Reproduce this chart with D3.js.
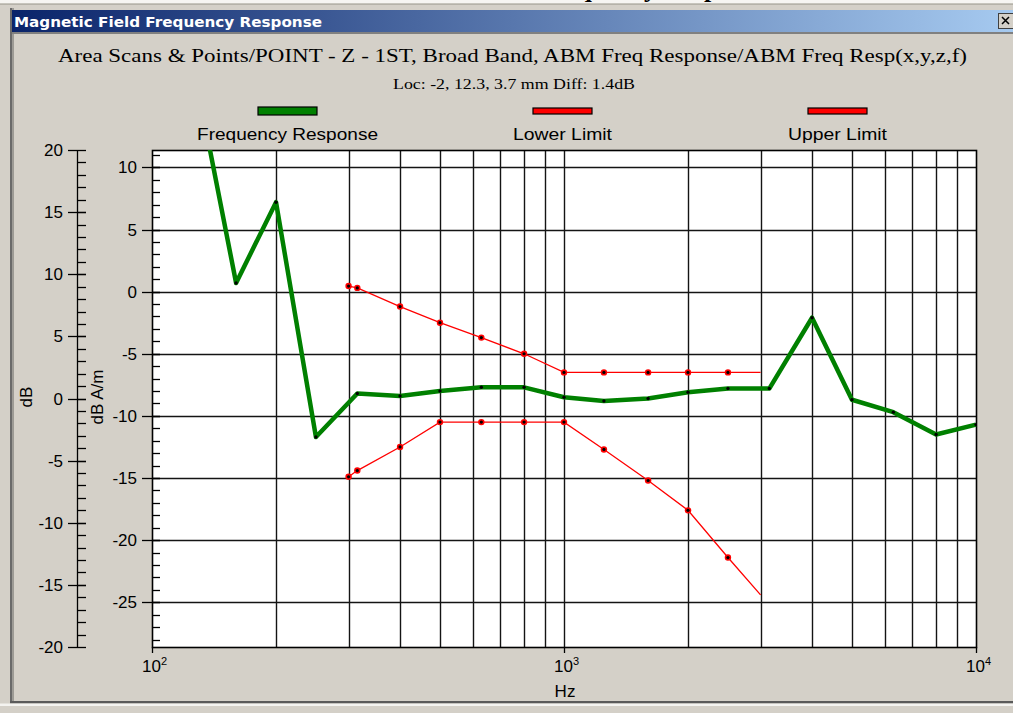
<!DOCTYPE html>
<html><head><meta charset="utf-8">
<script src="https://cdn.jsdelivr.net/npm/d3@7"></script>
<style>html,body{margin:0;padding:0;background:#d4d0c8;overflow:hidden}</style>
</head><body>
<svg id="c" width="1013" height="713"></svg>
<script>
// ---------------- data ----------------
const windowTitle = "Magnetic Field Frequency Response";
const subtitle1 = "Area Scans & Points/POINT - Z - 1ST, Broad Band, ABM Freq Response/ABM Freq Resp(x,y,z,f)";
const subtitle2 = "Loc: -2, 12.3, 3.7 mm Diff: 1.4dB";
const seriesNames = ["Frequency Response", "Lower Limit", "Upper Limit"];
const seriesColors = ["#008000", "#ff0000", "#ff0000"];

const responseHz = [125, 160, 200, 250, 315, 400, 500, 630, 800, 1000, 1250, 1600, 2000, 2500, 3150, 4000, 5000, 6300, 8000, 10000];
const responseDb = [18.8, 0.7, 7.2, -11.7, -8.2, -8.4, -8.0, -7.7, -7.7, -8.5, -8.8, -8.6, -8.1, -7.8, -7.8, -2.1, -8.7, -9.7, -11.5, -10.7];

const limitHz = [300, 315, 400, 500, 630, 800, 1000, 1250, 1600, 2000, 2500, 3000];
const lowerLimitDb = [-14.9, -14.4, -12.5, -10.5, -10.5, -10.5, -10.5, -12.7, -15.2, -17.6, -21.4, -24.4];
const upperLimitDb = [0.45, 0.3, -1.2, -2.5, -3.7, -5.0, -6.5, -6.5, -6.5, -6.5, -6.5, -6.5];

const xDomain = [100, 10000];
const xTickValues = [100, 1000, 10000];
const xTickExponents = ["2", "3", "4"];
const yInnerDomain = [-28.6, 11.4];
const yInnerTicks = [10, 5, 0, -5, -10, -15, -20, -25];
const yOuterDomain = [-20, 20];
const yOuterTicks = [20, 15, 10, 5, 0, -5, -10, -15, -20];
const yLabelOuter = "dB";
const yLabelInner = "dB A/m";
const xLabel = "Hz";

// ---------------- layout ----------------
const W = 1013, H = 713;
const P = {l: 152, r: 976, t: 150, b: 647};
const BG = "#d4d0c8";
const sans = "'Liberation Sans', Arial, sans-serif";
const serif = "'Liberation Serif', 'Times New Roman', serif";

const x = d3.scaleLog().domain(xDomain).range([P.l, P.r]);
const y = d3.scaleLinear().domain(yInnerDomain).range([P.b, P.t]);
const yO = d3.scaleLinear().domain(yOuterDomain).range([P.b, P.t]);

const svg = d3.select("#c");
const defs = svg.append("defs");

svg.append("rect").attr("width", W).attr("height", H).attr("fill", BG);

// page strip above the window (cropped heading)
svg.append("rect").attr("x", 0).attr("y", 0).attr("width", W).attr("height", 3.5).attr("fill", "#f6f5f2");
defs.append("clipPath").attr("id", "topclip").append("rect").attr("x", 0).attr("y", 0).attr("width", W).attr("height", 3.5);
svg.append("text").attr("clip-path", "url(#topclip)")
  .attr("x", 539).attr("y", -3).attr("font-family", serif).attr("font-weight", "bold")
  .attr("font-size", 26).attr("fill", "#000").text("Frequency Response");
svg.append("rect").attr("x", 0).attr("y", 3.5).attr("width", W).attr("height", 1.2).attr("fill", "#a8a59c");

// window frame
svg.append("rect").attr("x", 10).attr("y", 8).attr("width", 2.5).attr("height", 695).attr("fill", "#6a6a6a");
svg.append("rect").attr("x", 12.5).attr("y", 8).attr("width", 1.5).attr("height", 695).attr("fill", "#9c9a94");
svg.append("rect").attr("x", 10).attr("y", 701).attr("width", W - 10).attr("height", 2.5).attr("fill", "#5a5a5a");
svg.append("rect").attr("x", 0).attr("y", 703.5).attr("width", W).attr("height", 2.5).attr("fill", "#f4f3f0");

// title bar
const grad = defs.append("linearGradient").attr("id", "tb").attr("x1", "0%").attr("x2", "100%");
grad.append("stop").attr("offset", "0%").attr("stop-color", "#0a246a");
grad.append("stop").attr("offset", "100%").attr("stop-color", "#a6caf0");
svg.append("rect").attr("x", 12).attr("y", 10).attr("width", W - 12).attr("height", 22).attr("fill", "url(#tb)");
svg.append("rect").attr("x", 12).attr("y", 32).attr("width", W - 12).attr("height", 2).attr("fill", "#808080");
svg.append("text").attr("x", 14).attr("y", 27)
  .attr("font-family", "'DejaVu Sans', Tahoma, sans-serif").attr("font-weight", "bold")
  .attr("font-size", 14).attr("fill", "#fff")
  .attr("textLength", 308).attr("lengthAdjust", "spacingAndGlyphs").text(windowTitle);
// close button
svg.append("rect").attr("x", 998.5).attr("y", 13.5).attr("width", 16).attr("height", 15)
  .attr("fill", BG).attr("stroke", "#404040").attr("stroke-width", 1);
svg.append("path").attr("d", "M1002,17L1009,24M1009,17L1002,24").attr("stroke", "#000").attr("stroke-width", 1.5);

// header texts
svg.append("text").attr("x", 58).attr("y", 62).attr("font-family", serif).attr("font-size", 19)
  .attr("fill", "#000").attr("textLength", 909).attr("lengthAdjust", "spacingAndGlyphs").text(subtitle1);
svg.append("text").attr("x", 393).attr("y", 89).attr("font-family", serif).attr("font-size", 15)
  .attr("fill", "#000").attr("textLength", 242).attr("lengthAdjust", "spacingAndGlyphs").text(subtitle2);

// legend
const legendCx = [287.5, 562.5, 837.5];
const legendLabelW = [181, 99, 99];
seriesNames.forEach((n, i) => {
  const h = i === 0 ? 8 : 6;
  svg.append("rect").attr("x", legendCx[i] - 29.5).attr("y", 111 - h / 2).attr("width", 59).attr("height", h)
    .attr("fill", seriesColors[i]).attr("stroke", "#000").attr("stroke-width", 1.2);
  svg.append("text").attr("x", legendCx[i] - legendLabelW[i] / 2).attr("y", 140)
    .attr("font-family", sans).attr("font-size", 17).attr("fill", "#000")
    .attr("textLength", legendLabelW[i]).attr("lengthAdjust", "spacingAndGlyphs").text(n);
});

// plot area
svg.append("rect").attr("x", P.l).attr("y", P.t).attr("width", P.r - P.l).attr("height", P.b - P.t).attr("fill", "#fff");

// grid
const gridColor = "#141414";
const vGrid = [];
[100, 1000].forEach(d => { for (let k = 2; k <= 9; k++) vGrid.push(d * k); });
vGrid.push(1000);
svg.append("g").selectAll("line").data(vGrid).join("line")
  .attr("x1", d => Math.round(x(d)) + 0.5).attr("x2", d => Math.round(x(d)) + 0.5)
  .attr("y1", P.t).attr("y2", P.b).attr("stroke", gridColor).attr("stroke-width", 1.4);
svg.append("g").selectAll("line").data(yInnerTicks).join("line")
  .attr("x1", P.l).attr("x2", P.r)
  .attr("y1", d => Math.round(y(d)) + 0.5).attr("y2", d => Math.round(y(d)) + 0.5)
  .attr("stroke", gridColor).attr("stroke-width", 1.4);

// inner y axis (dB A/m) at plot left
const yInnerMinor = d3.range(Math.ceil(yInnerDomain[0]), Math.floor(yInnerDomain[1]) + 1);
const gi = svg.append("g").attr("stroke", "#000").attr("stroke-width", 1.3);
gi.selectAll("line.mn").data(yInnerMinor).join("line").attr("class", "mn")
  .attr("x1", P.l).attr("x2", P.l + 8).attr("y1", d => Math.round(y(d)) + 0.5).attr("y2", d => Math.round(y(d)) + 0.5);
gi.selectAll("line.mj").data(yInnerTicks).join("line").attr("class", "mj")
  .attr("x1", P.l - 10).attr("x2", P.l + 8).attr("y1", d => Math.round(y(d)) + 0.5).attr("y2", d => Math.round(y(d)) + 0.5);
svg.append("g").selectAll("text").data(yInnerTicks).join("text")
  .attr("x", 137).attr("y", d => y(d) + 6).attr("text-anchor", "end")
  .attr("font-family", sans).attr("font-size", 17).attr("fill", "#000").text(d => d);

// outer y axis (dB)
const ox = 77;
const yOuterMinor = d3.range(yOuterDomain[0], yOuterDomain[1] + 1);
const go = svg.append("g").attr("stroke", "#000").attr("stroke-width", 1.3);
go.append("line").attr("x1", ox + 0.5).attr("x2", ox + 0.5).attr("y1", yO(20)).attr("y2", yO(-20));
go.selectAll("line.mn").data(yOuterMinor).join("line").attr("class", "mn")
  .attr("x1", ox).attr("x2", ox + 9).attr("y1", d => Math.round(yO(d)) + 0.5).attr("y2", d => Math.round(yO(d)) + 0.5);
go.selectAll("line.mj").data(yOuterTicks).join("line").attr("class", "mj")
  .attr("x1", ox - 9).attr("x2", d => (d === 20 || d === -20) ? ox : ox + 9)
  .attr("y1", d => Math.round(yO(d)) + 0.5).attr("y2", d => Math.round(yO(d)) + 0.5);
svg.append("g").selectAll("text").data(yOuterTicks).join("text")
  .attr("x", 63).attr("y", d => yO(d) + 6).attr("text-anchor", "end")
  .attr("font-family", sans).attr("font-size", 17).attr("fill", "#000").text(d => d);

// x axis ticks and labels
svg.append("g").selectAll("line").data(xTickValues).join("line")
  .attr("x1", d => Math.round(x(d)) + 0.5).attr("x2", d => Math.round(x(d)) + 0.5)
  .attr("y1", P.b).attr("y2", P.b + 6).attr("stroke", "#000").attr("stroke-width", 1.3);
const xl = svg.append("g").selectAll("text").data(xTickValues).join("text")
  .attr("x", d => x(d) - 10).attr("y", 672)
  .attr("font-family", sans).attr("font-size", 17).attr("fill", "#000");
xl.append("tspan").text("10");
xl.append("tspan").attr("dy", -7).attr("font-size", 11).text((d, i) => xTickExponents[i]);

// axis titles
svg.append("text").attr("x", 565).attr("y", 697).attr("text-anchor", "middle")
  .attr("font-family", sans).attr("font-size", 17).attr("fill", "#000").text(xLabel);
svg.append("text").attr("transform", "translate(32,397) rotate(-90)").attr("text-anchor", "middle")
  .attr("font-family", sans).attr("font-size", 17).attr("fill", "#000").text(yLabelOuter);
svg.append("text").attr("transform", "translate(103,397) rotate(-90)").attr("text-anchor", "middle")
  .attr("font-family", sans).attr("font-size", 17).attr("fill", "#000").text(yLabelInner);

// plot border
svg.append("rect").attr("x", P.l + 0.5).attr("y", P.t + 0.5).attr("width", P.r - P.l).attr("height", P.b - P.t)
  .attr("fill", "none").attr("stroke", "#000").attr("stroke-width", 1.6);

// series
defs.append("clipPath").attr("id", "plotclip").append("rect")
  .attr("x", P.l).attr("y", P.t).attr("width", P.r - P.l + 1).attr("height", P.b - P.t);
const series = svg.append("g").attr("clip-path", "url(#plotclip)");
const line = d3.line().x(d => x(d[0])).y(d => y(d[1]));

const resp = responseHz.map((f, i) => [f, responseDb[i]]);
const lower = limitHz.map((f, i) => [f, lowerLimitDb[i]]);
const upper = limitHz.map((f, i) => [f, upperLimitDb[i]]);

[lower, upper].forEach((pts, k) => {
  series.append("path").attr("d", line(pts)).attr("fill", "none")
    .attr("stroke", seriesColors[k + 1]).attr("stroke-width", 1.3);
  const m = pts.slice(0, -1);
  series.selectAll(null).data(m).join("circle").attr("cx", d => x(d[0])).attr("cy", d => y(d[1]))
    .attr("r", 3.2).attr("fill", "#ff0000");
  series.selectAll(null).data(m).join("circle").attr("cx", d => x(d[0])).attr("cy", d => y(d[1]))
    .attr("r", 1.6).attr("fill", "#000");
});

series.append("path").attr("d", line(resp)).attr("fill", "none")
  .attr("stroke", seriesColors[0]).attr("stroke-width", 4.5).attr("stroke-linejoin", "round");
series.selectAll(null).data(resp).join("circle").attr("cx", d => x(d[0])).attr("cy", d => y(d[1]))
  .attr("r", 1.7).attr("fill", "#000");
</script>
</body></html>
